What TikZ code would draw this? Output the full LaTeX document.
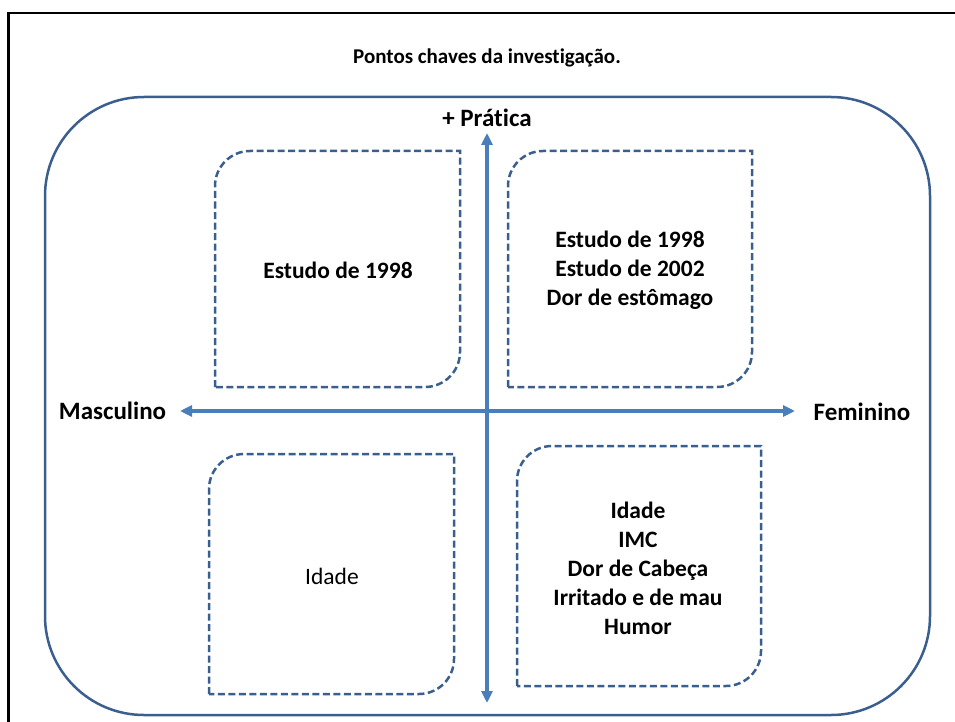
\documentclass[tikz,border=0pt]{standalone}
\usepackage{fontspec}
\setmainfont{Carlito}[Ligatures=NoCommon]
\usetikzlibrary{arrows.meta}
\definecolor{boxblue}{HTML}{3A5F8F}
\definecolor{axisblue}{HTML}{4A7EBB}
\newcommand{\mydiagbox}[4]{%
  \draw[dashbox] (#1,#4) -- (#1,#2+35) .. controls (#1,#2+15.7) and (#1+15.7,#2) .. (#1+35,#2)
    -- (#3,#2) -- (#3,#4-35) .. controls (#3,#4-15.7) and (#3-15.7,#4) .. (#3-35,#4) -- cycle;}
\tikzset{
  dashbox/.style={draw=boxblue, line width=2.5pt, dash pattern=on 7pt off 3.5pt},
  outerbox/.style={draw=boxblue, line width=2.5pt, rounded corners=99pt},
  axis/.style={draw=axisblue, line width=4pt, {Triangle[length=12pt,width=11pt]}-{Triangle[length=12pt,width=11pt]}},
  lbl/.style={font=\bfseries\fontsize{25}{30}\selectfont, inner sep=0pt},
  boxtxt/.style={font=\bfseries\fontsize{23.5}{29}\selectfont, align=center, inner sep=0pt},
}
\begin{document}
\begin{tikzpicture}[x=1pt,y=-1pt]
\useasboundingbox (0,0) rectangle (955,722);
\draw[line width=2.5pt] (8.7,740) -- (8.7,13) -- (970,13);
\draw[outerbox] (45,97) rectangle (930,715);
\mydiagbox{215}{151}{460}{387}
\mydiagbox{508}{151}{752}{387}
\mydiagbox{209}{454}{454}{694}
\mydiagbox{517}{446}{761}{686}
\coordinate (vtop) at (487,133);
\coordinate (vbot) at (487,703);
\coordinate (hleft) at (180,411);
\coordinate (hright) at (795,411);
\draw[axis] (vbot) -- (vtop);
\draw[axis] (hleft) -- (hright);
\node[font=\bfseries\fontsize{21}{25}\selectfont, inner sep=0pt] (title) at (487,58) {Pontos chaves da investigação.};
\node[lbl] (pratica) at (487,118) {+ Prática};
\node[lbl] (masc) at (112.5,411) {Masculino};
\node[lbl] (fem) at (862,412) {Feminino};
\node[boxtxt] (tl) at (338,270) {Estudo de 1998};
\node[boxtxt] (tr) at (630,270) {Estudo de 1998\\Estudo de 2002\\Dor de estômago};
\node[boxtxt, font=\fontsize{23.5}{29}\selectfont] (bl) at (332,576) {Idade};
\node[boxtxt] (br) at (638,568) {Idade\\IMC\\Dor de Cabeça\\Irritado e de mau\\Humor};
\end{tikzpicture}
\end{document}
